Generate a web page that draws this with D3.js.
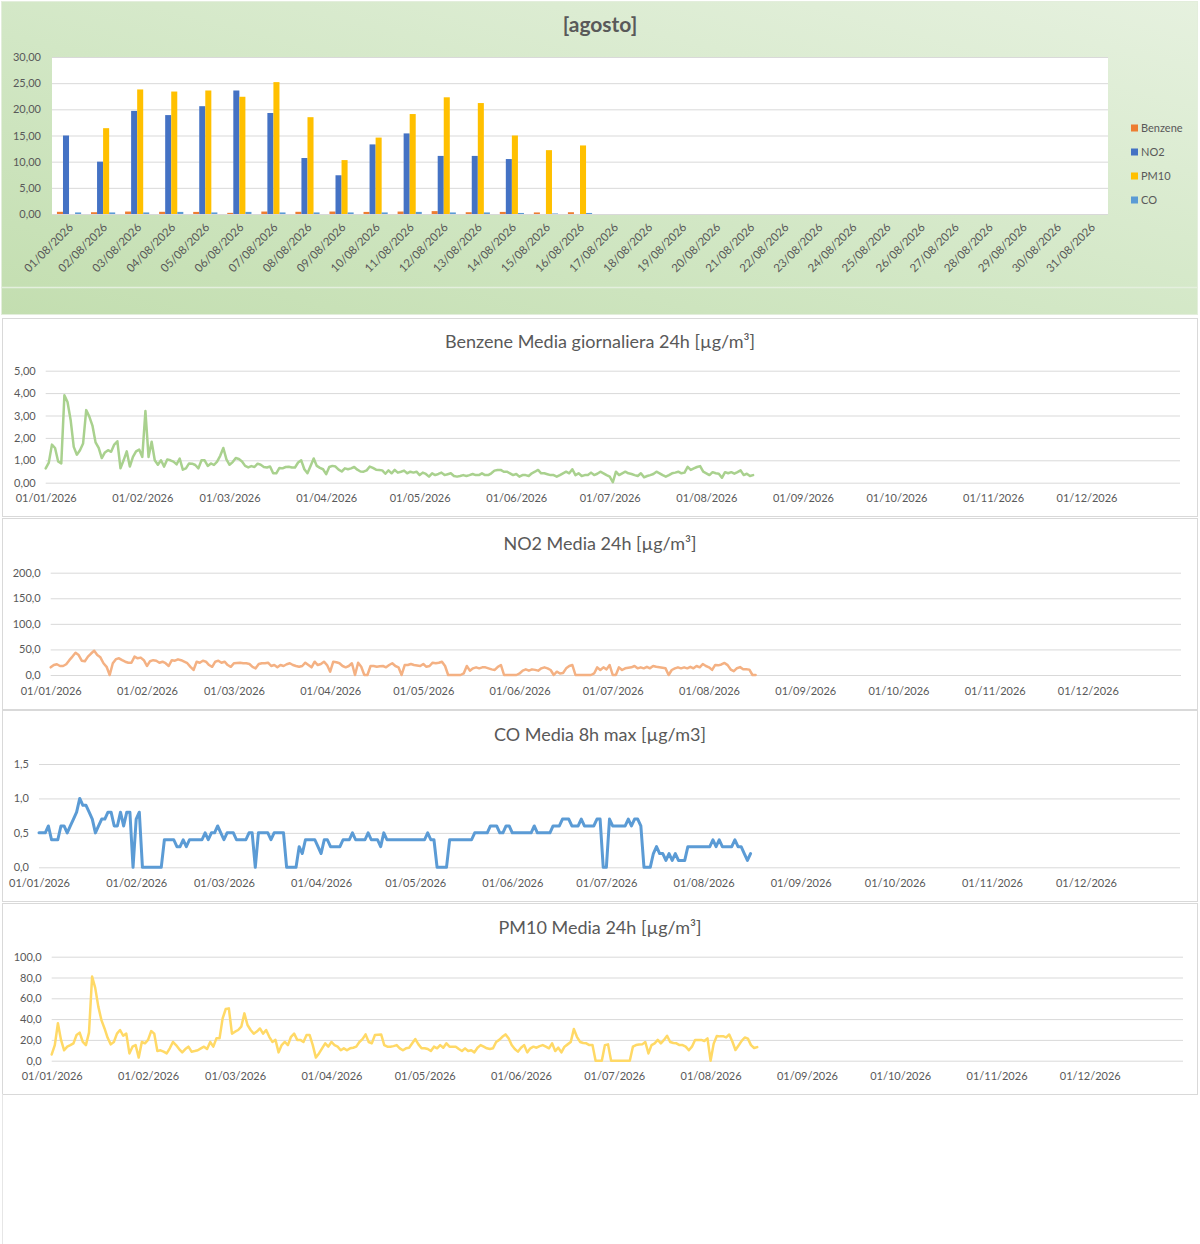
<!DOCTYPE html>
<html lang="it">
<head>
<meta charset="utf-8">
<title>Qualità dell'aria 2026</title>
<script src="https://cdn.jsdelivr.net/npm/d3@7"></script>
<style>
  html, body { margin: 0; padding: 0; background: #ffffff; }
  #chart { width: 1200px; height: 1244px; }
  text { font-family: Lato, "Open Sans", sans-serif; fill: #595959; }
  .tick text { font-size: 11px; }
  .tick line { stroke: #d9d9d9; }
  .title { font-size: 18px; }
  .monthTitle { font-size: 21px; font-weight: bold; }
  .legend text { font-size: 11px; }
</style>
</head>
<body>
<div id="chart"></div>
<script>
/**
 * Data - daily values from 01/01/2026 to 16/08/2026 (one value per day).
 */

// Benzene media giornaliera 24h [µg/m³]
const benzene24h = [
  // gen
  0.64, 0.9, 1.7, 1.55, 0.95, 0.86, 3.9, 3.6, 2.8, 1.6,
  1.25, 1.45, 1.75, 3.24, 2.95, 2.55, 1.8, 1.55, 1.1, 1.35,
  1.45, 1.38, 1.7, 1.85, 0.64, 1.0, 1.4, 0.72, 1.15, 1.4,
  1.48,
  // feb
  1.15, 3.2, 1.15, 1.83, 1.0, 0.8, 1.0, 0.72, 1.04, 1.0,
  0.94, 0.82, 1.08, 0.58, 0.64, 0.86, 0.85, 0.79, 0.64, 1.0,
  1.0, 0.75, 0.86, 0.79, 0.94, 1.2, 1.55, 1.04,
  // mar
  0.8, 0.92, 1.1, 1.06, 0.95, 0.75, 0.68, 0.74, 0.7, 0.85,
  0.8, 0.7, 0.68, 0.72, 0.42, 0.42, 0.66, 0.64, 0.7, 0.71,
  0.68, 0.68, 0.9, 1.0, 0.6, 0.42, 0.75, 1.08, 0.75, 0.66,
  0.6,
  // apr
  0.38, 0.7, 0.75, 0.72, 0.58, 0.5, 0.64, 0.6, 0.64, 0.7,
  0.58, 0.5, 0.49, 0.55, 0.72, 0.66, 0.58, 0.57, 0.55, 0.4,
  0.55, 0.42, 0.57, 0.45, 0.49, 0.54, 0.42, 0.49, 0.45, 0.49,
  // mag
  0.34, 0.45, 0.39, 0.27, 0.42, 0.34, 0.39, 0.45, 0.34, 0.38,
  0.42, 0.30, 0.27, 0.30, 0.34, 0.30, 0.34, 0.39, 0.34, 0.34,
  0.42, 0.34, 0.34, 0.42, 0.54, 0.57, 0.57, 0.49, 0.49, 0.42,
  0.34,
  // giu
  0.39, 0.27, 0.34, 0.34, 0.30, 0.42, 0.49, 0.57, 0.42, 0.42,
  0.38, 0.34, 0.34, 0.27, 0.34, 0.42, 0.49, 0.42, 0.60, 0.34,
  0.42, 0.30, 0.34, 0.34, 0.45, 0.34, 0.40, 0.49, 0.42, 0.34,
  // lug
  0.27, 0.02, 0.49, 0.34, 0.42, 0.49, 0.42, 0.39, 0.34, 0.30,
  0.42, 0.24, 0.30, 0.34, 0.39, 0.49, 0.42, 0.34, 0.27, 0.34,
  0.42, 0.45, 0.49, 0.42, 0.45, 0.71, 0.57, 0.64, 0.70, 0.74,
  0.49,
  // ago
  0.42, 0.34, 0.47, 0.42, 0.40, 0.22, 0.47, 0.42, 0.47, 0.40,
  0.47, 0.55, 0.34, 0.40, 0.30, 0.34
];

// NO2 media 24h [µg/m³]
const no2Daily = [
  // gen
  15, 19.5, 21, 17.6, 17.6, 21, 29, 36, 43.6, 39,
  28, 27, 36, 42, 47.5, 39, 34.5, 23, 16, 0,
  23, 31, 32.6, 29, 26, 24, 24, 36, 32.6, 34,
  29,
  // feb
  17.6, 27, 29, 28, 24, 26, 23, 17.6, 29, 28,
  30.6, 29, 26, 23, 16, 9.8, 26, 24, 28, 26,
  19.5, 16, 26, 28, 24, 26, 19.5, 16,
  // mar
  23, 23.5, 24, 23, 23, 21.5, 16, 13, 21.5, 23,
  23, 24, 17.6, 19.5, 15, 19.5, 17.6, 21, 23, 19.5,
  17.6, 16, 17.6, 24, 19.5, 15, 26, 19.5, 21.5, 26,
  19.5,
  // apr
  6.5, 26, 25, 23, 17.6, 15, 17.6, 23, 0, 24,
  16, 0, 0, 17.6, 17.6, 16, 17, 17.6, 15, 19.5,
  23, 17.6, 15, 0, 19.5, 19.5, 21.5, 19.5, 18.5, 17.6,
  // mag
  21.5, 16, 17.6, 24, 23, 24, 26, 17.6, 0, 0,
  0, 0, 0, 3, 17.6, 8.5, 13, 15, 13, 15,
  15, 13, 11, 9.8, 16, 19.5, 0, 0, 0, 0,
  0,
  // giu
  3, 8.5, 11, 8.5, 11, 10, 8.5, 13, 15, 13,
  9.8, 0, 6.5, 3, 4, 13, 17.6, 19.5, 0, 0,
  0, 0, 0, 0, 3, 15, 9.8, 15, 11, 19.5,
  // lug
  0, 0, 15, 9.8, 13, 14, 15, 17.6, 13, 15,
  13, 16, 13, 17.6, 16, 15, 14, 13, 0, 9.8,
  13, 15, 13, 15, 13, 16, 13, 17.6, 15, 21.5,
  17.6,
  // ago
  15, 10, 19.7, 18.9, 20.6, 23.6, 19.3, 10.7, 7.4, 13.3,
  15.4, 11.1, 11.1, 10.5, 0, 0
];

// CO media 8h max [µg/m3]
const co8hMax = [
  // gen
  0.5, 0.5, 0.5, 0.6, 0.4, 0.4, 0.4, 0.6, 0.6, 0.5,
  0.6, 0.7, 0.8, 1.0, 0.9, 0.9, 0.8, 0.7, 0.5, 0.6,
  0.7, 0.7, 0.8, 0.8, 0.6, 0.6, 0.8, 0.6, 0.8, 0.8,
  0,
  // feb
  0.7, 0.8, 0, 0, 0, 0, 0, 0, 0, 0.4,
  0.4, 0.4, 0.4, 0.3, 0.3, 0.4, 0.3, 0.4, 0.4, 0.4,
  0.4, 0.4, 0.5, 0.4, 0.5, 0.5, 0.6, 0.5,
  // mar
  0.4, 0.5, 0.5, 0.5, 0.4, 0.4, 0.4, 0.4, 0.5, 0.5,
  0, 0.5, 0.5, 0.5, 0.5, 0.4, 0.5, 0.5, 0.5, 0.5,
  0, 0, 0, 0, 0.3, 0.2, 0.4, 0.4, 0.4, 0.4,
  0.3,
  // apr
  0.2, 0.4, 0.4, 0.3, 0.3, 0.3, 0.3, 0.4, 0.4, 0.4,
  0.5, 0.4, 0.4, 0.4, 0.4, 0.5, 0.4, 0.4, 0.4, 0.3,
  0.5, 0.4, 0.4, 0.4, 0.4, 0.4, 0.4, 0.4, 0.4, 0.4,
  // mag
  0.4, 0.4, 0.4, 0.4, 0.5, 0.4, 0.4, 0, 0, 0,
  0, 0.4, 0.4, 0.4, 0.4, 0.4, 0.4, 0.4, 0.4, 0.5,
  0.5, 0.5, 0.5, 0.5, 0.6, 0.6, 0.6, 0.5, 0.5, 0.6,
  0.6,
  // giu
  0.5, 0.5, 0.5, 0.5, 0.5, 0.5, 0.5, 0.6, 0.5, 0.5,
  0.5, 0.5, 0.5, 0.6, 0.6, 0.6, 0.7, 0.7, 0.7, 0.6,
  0.6, 0.6, 0.7, 0.6, 0.6, 0.6, 0.6, 0.7, 0.7, 0,
  // lug
  0, 0.7, 0.6, 0.6, 0.6, 0.6, 0.6, 0.7, 0.6, 0.7,
  0.7, 0.6, 0, 0, 0, 0.2, 0.3, 0.2, 0.2, 0.1,
  0.2, 0.1, 0.2, 0.1, 0.1, 0.1, 0.3, 0.3, 0.3, 0.3,
  0.3,
  // ago
  0.3, 0.3, 0.3, 0.4, 0.3, 0.4, 0.3, 0.3, 0.3, 0.3,
  0.4, 0.3, 0.3, 0.2, 0.1, 0.2
];

// PM10 media 24h [µg/m³]
const pm10Daily = [
  // gen
  6, 15, 36, 20, 10, 13.5, 15, 16.7, 24.7, 27,
  18, 15, 27, 81, 70, 52, 39, 31, 22, 15.7,
  18, 26, 29.5, 24, 26, 7, 13.5, 15, 3, 18,
  16.7,
  // feb
  20, 28.5, 26, 9.3, 10, 8.7, 7, 11.9, 18, 15,
  11.2, 8, 11.2, 13.5, 8.7, 9.3, 10, 11.9, 13.5, 11.2,
  18, 13.5, 21.5, 21.5, 40.7, 49.7, 50.3, 26,
  // mar
  27.9, 29.5, 32.7, 45.5, 34.3, 29.5, 26, 28, 31, 26,
  29.5, 23, 18, 20, 8, 15, 18, 15, 23, 26,
  20, 20, 18, 24.7, 24.7, 15, 3, 7, 11.9, 16.7,
  13.5,
  // apr
  18, 15, 13.5, 10, 11.9, 10, 11.9, 12.5, 13.5, 18,
  20.8, 25.3, 18, 16.7, 24.7, 25, 25.3, 15, 13.5, 13.5,
  14, 15, 11.9, 10, 11.9, 12.5, 16.7, 20.8, 15.7, 11.9,
  // mag
  12, 11.2, 9.3, 13.5, 11.9, 15, 12.5, 16.7, 13.5, 13.5,
  13.5, 11.2, 9.3, 11.9, 9.3, 10, 8, 12.5, 15, 13.5,
  11.9, 11.2, 11.9, 18, 20, 23, 25.3, 21.5, 15, 11.2,
  8.7,
  // giu
  12.5, 15, 8, 11.9, 13.5, 12.5, 14, 15, 13.5, 11.9,
  16.7, 9.3, 12.5, 8, 13.5, 15.7, 18, 30.4, 23, 18,
  17, 16.7, 15, 15, 0, 0, 0, 15, 15.7, 0,
  // lug
  0, 0, 0, 0, 0, 0, 13.5, 15, 15.5, 15.7,
  18, 7, 15, 16.7, 20, 16.7, 20, 24, 18, 17,
  16.7, 15, 15, 13.5, 10, 13.5, 20, 20, 20, 19,
  21.5,
  // ago
  0, 16.4, 23.8, 23.4, 23.6, 22.4, 25.2, 18.5, 10.3, 14.6,
  19.1, 22.3, 21.2, 15.0, 12.2, 13.1
];

// Series of the monthly bar chart (order of the clusters) and their colours.
const barSeries = ["Benzene", "NO2", "PM10", "CO"];
const barColors = ["#ED7D31", "#4472C4", "#FFC000", "#5B9BD5"];

// Month shown in the bar chart.
const monthTitle = "[agosto]";
const monthIndex = 7; // agosto
const barTicks = [0, 5, 10, 15, 20, 25, 30];

/**
 * Module local variables.
 */
const firstDay = new Date(Date.UTC(2026, 0, 1));
const lastDay = new Date(Date.UTC(2026, 11, 31));
const monthStarts = d3.utcMonth.range(firstDay, new Date(Date.UTC(2026, 11, 2)));

const itLocale = d3.formatLocale({ decimal: ",", thousands: ".", grouping: [3], currency: ["", " €"] });
const dayFormat = d3.utcFormat("%d/%m/%Y");

const gridColor = "#d9d9d9";
const textColor = "#595959";

let svg = null;

/**
 * Helper Functions
 */

function dayOf(i) {
  return d3.utcDay.offset(firstDay, i);
}

function styleGrid(g) {
  g.select(".domain").remove();
  g.selectAll(".tick line").attr("stroke", gridColor).attr("stroke-width", 1);
  g.selectAll(".tick text").attr("fill", textColor);
}

/**
 * Initialization Functions
 */

function initializeSvg() {
  svg = d3.select("#chart")
    .append("svg")
    .attr("width", 1200)
    .attr("height", 1244);

  const defs = svg.append("defs");
  const grad = defs.append("linearGradient")
    .attr("id", "greenGrad")
    .attr("x1", "0%").attr("y1", "100%")
    .attr("x2", "100%").attr("y2", "0%");
  grad.append("stop").attr("offset", "0%").attr("stop-color", "#c3deb0");
  grad.append("stop").attr("offset", "45%").attr("stop-color", "#d2e7c5");
  grad.append("stop").attr("offset", "100%").attr("stop-color", "#e6f1df");
}

function initializeMonthChart() {
  const g = svg.append("g");
  const plot = { left: 52, right: 1108, top: 57, bottom: 214 };

  // Panel background.
  g.append("rect")
    .attr("x", 1.5).attr("y", 1.5)
    .attr("width", 1196).attr("height", 313)
    .attr("fill", "url(#greenGrad)")
    .attr("stroke", "#e3eedc");
  g.append("line")
    .attr("x1", 2).attr("x2", 1197)
    .attr("y1", 287.5).attr("y2", 287.5)
    .attr("stroke", "#e4efdd").attr("stroke-width", 1.5);

  g.append("text")
    .attr("class", "monthTitle")
    .attr("x", 600).attr("y", 25)
    .attr("dy", "0.35em")
    .attr("text-anchor", "middle")
    .text(monthTitle);

  // Plot area.
  g.append("rect")
    .attr("x", plot.left).attr("y", plot.top)
    .attr("width", plot.right - plot.left).attr("height", plot.bottom - plot.top)
    .attr("fill", "#ffffff");

  const days = d3.utcDay.range(new Date(Date.UTC(2026, monthIndex, 1)),
                               new Date(Date.UTC(2026, monthIndex + 1, 1)));
  const offset = d3.utcDay.count(firstDay, days[0]);

  const x0 = d3.scaleBand()
    .domain(days.map(dayFormat))
    .range([plot.left, plot.right])
    .paddingInner(0.29)
    .paddingOuter(0.145);
  const x1 = d3.scaleBand()
    .domain(barSeries)
    .range([0, x0.bandwidth()]);
  const y = d3.scaleLinear()
    .domain([0, 30])
    .range([plot.bottom, plot.top]);
  const color = d3.scaleOrdinal().domain(barSeries).range(barColors);

  // Grid + y labels.
  g.append("g")
    .attr("transform", `translate(${plot.left},0)`)
    .call(d3.axisLeft(y)
      .tickValues(barTicks)
      .tickSize(-(plot.right - plot.left))
      .tickPadding(11)
      .tickFormat(itLocale.format(".2f")))
    .call(styleGrid);

  // Bars.
  const sources = { Benzene: benzene24h, NO2: no2Daily, PM10: pm10Daily, CO: co8hMax };
  const rows = days.map((d, i) => ({
    label: dayFormat(d),
    values: barSeries.map((k) => ({ key: k, value: sources[k][offset + i] }))
  }));

  g.append("g")
    .selectAll("g")
    .data(rows)
    .join("g")
    .attr("transform", (d) => `translate(${x0(d.label)},0)`)
    .selectAll("rect")
    .data((d) => d.values.filter((v) => v.value != null))
    .join("rect")
    .attr("x", (d) => x1(d.key))
    .attr("width", x1.bandwidth())
    .attr("y", (d) => y(d.value))
    .attr("height", (d) => y(0) - y(d.value))
    .attr("fill", (d) => color(d.key));

  // X labels rotated.
  g.append("g")
    .selectAll("text")
    .data(days)
    .join("text")
    .attr("text-anchor", "end")
    .attr("font-size", 11.5)
    .attr("transform", (d) => `translate(${x0(dayFormat(d)) + x0.bandwidth() / 2 + 5},${plot.bottom + 14}) rotate(-45)`)
    .text(dayFormat);

  // Legend.
  const legend = g.append("g")
    .attr("class", "legend")
    .attr("transform", "translate(1131,128)");
  const item = legend.selectAll("g")
    .data(barSeries)
    .join("g")
    .attr("transform", (d, i) => `translate(0,${i * 24})`);
  item.append("rect")
    .attr("x", 0).attr("y", -3.5)
    .attr("width", 7).attr("height", 7)
    .attr("fill", (d) => color(d));
  item.append("text")
    .attr("x", 10).attr("dy", "0.35em")
    .text((d) => d);
}

// Line panels configuration.
const linePanels = [
  {
    title: "Benzene Media giornaliera 24h [µg/m³]",
    values: benzene24h, color: "#A9D18E", width: 2.5,
    ticks: [0, 1, 2, 3, 4, 5], format: ".2f",
    box: [318, 516], titleY: 342,
    xRange: [45.7, 1180], yRange: [482.7, 370.7]
  },
  {
    title: "NO2 Media 24h [µg/m³]",
    values: no2Daily, color: "#F4B183", width: 2.5,
    ticks: [0, 50, 100, 150, 200], format: ".1f",
    box: [518, 709], titleY: 544,
    xRange: [50.7, 1181], yRange: [675, 572.7]
  },
  {
    title: "CO Media 8h max [µg/m3]",
    values: co8hMax, color: "#5B9BD5", width: 3,
    ticks: [0, 0.5, 1, 1.5], format: ".1f",
    box: [710, 901], titleY: 735,
    xRange: [39, 1180], yRange: [867.3, 764]
  },
  {
    title: "PM10 Media 24h [µg/m³]",
    values: pm10Daily, color: "#FFD966", width: 2.5,
    ticks: [0, 20, 40, 60, 80, 100], format: ".1f",
    box: [903, 1094], titleY: 928,
    xRange: [51.7, 1183], yRange: [1060.7, 956.7]
  }
];

function initializeLinePanel(p) {
  const g = svg.append("g");

  g.append("rect")
    .attr("x", 2.5).attr("y", p.box[0] + 0.5)
    .attr("width", 1195).attr("height", p.box[1] - p.box[0])
    .attr("fill", "#ffffff")
    .attr("stroke", gridColor);

  g.append("text")
    .attr("class", "title")
    .attr("x", 600).attr("y", p.titleY)
    .attr("dy", "0.35em")
    .attr("text-anchor", "middle")
    .text(p.title);

  const x = d3.scaleUtc().domain([firstDay, lastDay]).range(p.xRange);
  const y = d3.scaleLinear().domain([0, d3.max(p.ticks)]).range(p.yRange);

  g.append("g")
    .attr("transform", `translate(${p.xRange[0]},0)`)
    .call(d3.axisLeft(y)
      .tickValues(p.ticks)
      .tickSize(-(p.xRange[1] - p.xRange[0]))
      .tickPadding(10)
      .tickFormat(itLocale.format(p.format)))
    .call(styleGrid);

  g.append("g")
    .attr("transform", `translate(0,${p.yRange[0]})`)
    .call(d3.axisBottom(x)
      .tickValues(monthStarts)
      .tickSize(0)
      .tickPadding(12)
      .tickFormat(dayFormat))
    .call((a) => a.select(".domain").remove())
    .call((a) => a.selectAll(".tick text").attr("fill", textColor));

  const line = d3.line()
    .x((d, i) => x(dayOf(i)))
    .y((d) => y(d));

  g.append("path")
    .datum(p.values)
    .attr("fill", "none")
    .attr("stroke", p.color)
    .attr("stroke-width", p.width)
    .attr("stroke-linejoin", "round")
    .attr("stroke-linecap", "round")
    .attr("d", line);
}

function initialize() {
  initializeSvg();
  initializeMonthChart();
  linePanels.forEach(initializeLinePanel);

  // Empty frame below the last panel.
  svg.append("line")
    .attr("x1", 2.5).attr("x2", 2.5)
    .attr("y1", 1094).attr("y2", 1244)
    .attr("stroke", "#e6e6e6");
}

initialize();
</script>
</body>
</html>
